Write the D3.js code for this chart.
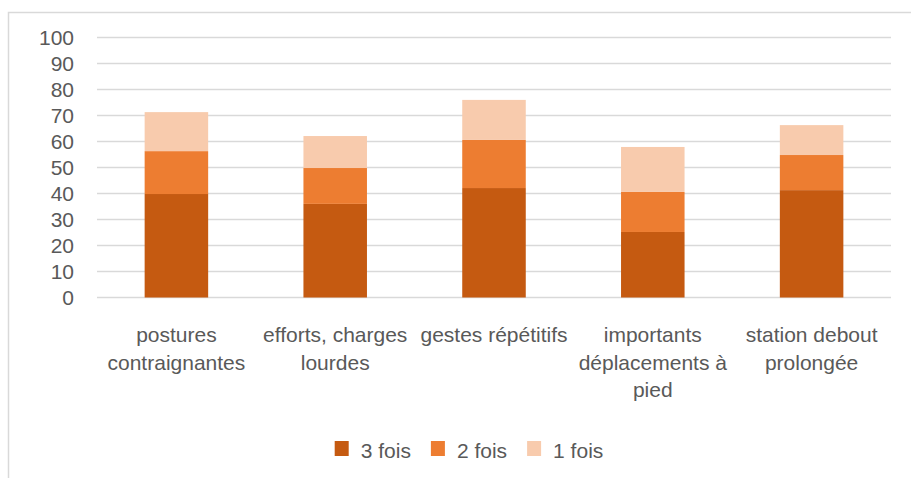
<!DOCTYPE html>
<html>
<head>
<meta charset="utf-8">
<script src="https://cdn.jsdelivr.net/npm/d3@7"></script>
<style>
  body { margin: 0; background: #fff; }
  text { font-family: "Liberation Sans", Arial, sans-serif; fill: #595959; }
</style>
</head>
<body>
<script>
//chart data
var categories = ["postures contraignantes", "efforts, charges lourdes", "gestes répétitifs",
                  "importants déplacements à pied", "station debout prolongée"];
var series = ["3 fois", "2 fois", "1 fois"];
var trois = [39.8, 36.0, 42.1, 25.2, 41.3];
var deux = [16.5, 13.8, 18.5, 15.4, 13.5];
var un = [15.0, 12.3, 15.4, 17.3, 11.5];
var yTicks = [0, 10, 20, 30, 40, 50, 60, 70, 80, 90, 100];
var colors = ["#C55A11", "#ED7D31", "#F8CBAD"];

//frame
var width = 911, height = 478;
var margin = {top: 37.5, left: 97, right: 20, bottom: 180.5};

var svg = d3.select("body").append("svg")
    .attr("width", width)
    .attr("height", height);

//outer chart border
svg.append("rect")
    .attr("x", 8.5).attr("y", 12.5)
    .attr("width", 940).attr("height", 500)
    .attr("fill", "none")
    .attr("stroke", "#D9D9D9")
    .attr("stroke-width", 1.5);

var x = d3.scaleBand()
    .domain(categories)
    .range([margin.left, width - margin.right])
    .paddingInner(0.6)
    .paddingOuter(0.3);

var y = d3.scaleLinear()
    .domain([0, 100])
    .range([height - margin.bottom, margin.top]);

//gridlines
svg.append("g")
    .selectAll("line")
    .data(yTicks)
    .enter()
    .append("line")
    .attr("x1", margin.left)
    .attr("x2", width - margin.right)
    .attr("y1", function(d){ return y(d); })
    .attr("y2", function(d){ return y(d); })
    .attr("stroke", "#D9D9D9")
    .attr("stroke-width", 1.5);

//y axis labels
var yAxis = d3.axisLeft(y).tickValues(yTicks).tickSize(0).tickPadding(23);
var gy = svg.append("g")
    .attr("transform", "translate(" + margin.left + ",0)")
    .call(yAxis);
gy.select(".domain").remove();
gy.selectAll("text").style("font-size", "21px").attr("fill", "#595959");

//stacked data
var rows = categories.map(function(c, i){
    return {cat: c, "3 fois": trois[i], "2 fois": deux[i], "1 fois": un[i]};
});
var stacked = d3.stack().keys(series)(rows);

svg.append("g")
    .selectAll("g")
    .data(stacked)
    .enter()
    .append("g")
    .attr("fill", function(d, i){ return colors[i]; })
    .selectAll("rect")
    .data(function(d){ return d; })
    .enter()
    .append("rect")
    .attr("x", function(d){ return x(d.data.cat); })
    .attr("width", x.bandwidth())
    .attr("y", function(d){ return y(d[1]); })
    .attr("height", function(d){ return y(d[0]) - y(d[1]); });

//category labels, wrapped to the band step
var step = x.step();
var labels = svg.append("g");
categories.forEach(function(c){
    var t = labels.append("text")
        .attr("text-anchor", "middle")
        .style("font-size", "21px")
        .attr("x", x(c) + x.bandwidth() / 2)
        .attr("y", y(0) + 44.5);
    var words = c.split(" "), line = [], n = 0;
    var ts = t.append("tspan").attr("x", x(c) + x.bandwidth() / 2).attr("dy", 0);
    words.forEach(function(w){
        line.push(w);
        ts.text(line.join(" "));
        if (ts.node().getComputedTextLength() > step - 2 && line.length > 1) {
            line.pop();
            ts.text(line.join(" "));
            line = [w];
            n++;
            ts = t.append("tspan").attr("x", x(c) + x.bandwidth() / 2)
                .attr("dy", 27.5).text(w);
        }
    });
});

//legend
var legend = svg.append("g");
var lx = 0;
series.forEach(function(s, i){
    var g = legend.append("g").attr("transform", "translate(" + lx + ",0)");
    g.append("rect")
        .attr("x", 0).attr("y", 441)
        .attr("width", 14).attr("height", 15)
        .attr("fill", colors[i]);
    var t = g.append("text")
        .attr("x", 26).attr("y", 458)
        .style("font-size", "21px")
        .text(s);
    lx += 26 + t.node().getComputedTextLength() + 20;
});
var lw = lx - 20;
legend.attr("transform", "translate(" + (469 - lw / 2) + ",0)");
</script>
</body>
</html>
